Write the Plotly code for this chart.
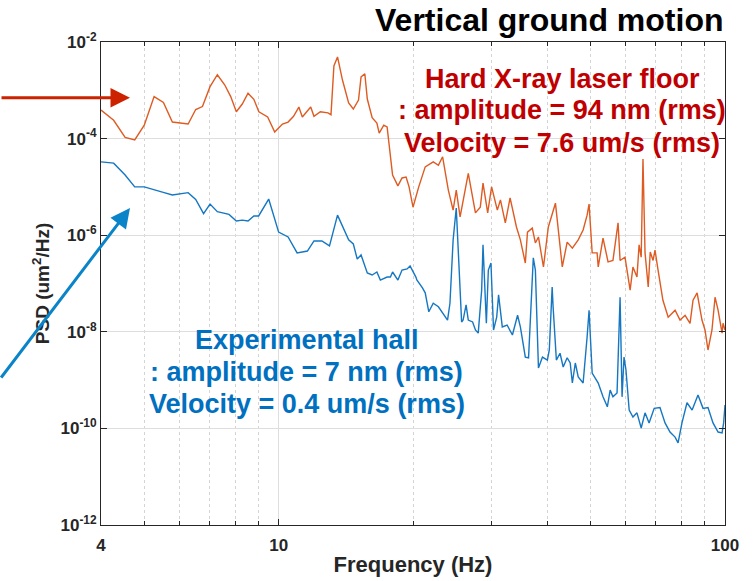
import plotly.graph_objects as go

# ---- data ----
freq_floor = [4.00, 4.27, 4.53, 4.76, 5.00, 5.26, 5.52, 5.78, 6.27, 6.52, 6.75, 7.02, 7.29, 7.57, 7.81,
              8.04, 8.29, 8.54, 8.80, 9.03, 9.45, 9.80, 10.2, 10.5, 10.8, 11.1, 11.3, 11.8, 12.0, 12.4,
              12.9, 13.1, 13.3, 13.55, 13.9, 14.35, 14.7, 15.1, 15.3, 15.6, 15.8, 16.2, 16.6, 16.8, 17.2,
              17.5, 18.0, 18.5, 18.9, 19.3, 19.6, 20.0, 20.6, 21.3, 22.2, 22.8, 23.3, 24.0, 24.6, 25.0,
              25.5, 26.6, 27.6, 28.3, 28.7, 29.4, 30.0, 30.9, 31.4, 32.2, 33.0, 34.1, 34.8, 35.7, 36.1,
              37.0, 37.6, 38.2, 39.2, 40.2, 41.7, 42.3, 43.2, 44.3, 45.5, 46.9, 48.1, 49.1, 49.6, 50.4,
              51.7, 52.0, 53.3, 54.7, 56.1, 57.6, 58.2, 59.7, 60.7, 61.3, 62.2, 63.5, 64.2, 64.9, 65.5,
              66.2, 67.3, 68.0, 69.0, 69.7, 70.8, 72.6, 74.6, 77.3, 79.3, 81.4, 83.5, 84.8, 86.6, 88.8,
              90.2, 91.6, 93.5, 95.0, 96.5, 98.5, 99.0, 100.0]
psd_floor = [3.9e-4, 2.4e-4, 1.06e-4, 9.4e-5, 1.9e-4, 7.4e-4, 5.6e-4, 2.2e-4, 2.0e-4, 4.0e-4, 4.6e-4, 1.19e-3,
             2.1e-3, 1.3e-3, 7.4e-4, 3.6e-4, 5.2e-4, 8.7e-4, 6.5e-4, 3.6e-4, 2.8e-4, 1.37e-4, 2.0e-4, 2.2e-4,
             2.9e-4, 4.5e-4, 2.8e-4, 4.5e-4, 2.9e-4, 3.6e-4, 3.4e-4, 3.1e-4, 3.2e-3, 4.9e-3, 1.63e-3, 5.5e-4,
             4.1e-4, 6.3e-4, 1.9e-3, 2.2e-3, 6.6e-4, 2.7e-4, 2.1e-4, 1.3e-4, 1.9e-4, 1.74e-4, 1.76e-5, 1.05e-5,
             1.53e-5, 1.6e-5, 1.0e-5, 3.8e-6, 1.0e-5, 2.6e-5, 3.3e-5, 2.8e-5, 4.2e-5, 8.6e-6, 3.3e-6, 8.6e-6,
             2.4e-6, 1.9e-5, 2.9e-6, 3.8e-6, 1.2e-5, 2.9e-6, 1.0e-5, 3.3e-6, 5.4e-6, 1.8e-6, 5.9e-6, 1.48e-6,
             8.0e-7, 2.65e-7, 1.16e-6, 1.4e-6, 6.9e-7, 9.2e-7, 2.2e-7, 1.48e-6, 4.6e-6, 1.48e-6, 2.2e-7, 7.2e-7,
             5.4e-7, 8.0e-7, 1.28e-6, 2.6e-6, 4.4e-6, 4.3e-7, 4.3e-7, 2.2e-7, 8.7e-7, 2.8e-7, 3.0e-7, 1.8e-6,
             3.0e-7, 3.5e-7, 1.36e-7, 7.3e-8, 2.2e-7, 1.36e-7, 6.3e-7, 3.5e-7, 3.8e-5, 4.3e-7, 8.5e-8, 4.5e-7,
             3.0e-7, 4.9e-7, 1.9e-7, 4.5e-8, 2.0e-8, 2.8e-8, 1.75e-8, 2.2e-8, 1.5e-8, 4.5e-8, 6.4e-8, 1.75e-8,
             1.09e-8, 4.2e-9, 1.09e-8, 5.2e-8, 2.8e-8, 9.4e-9, 1.5e-8, 1.09e-8]

freq_hall = [4.00, 4.27, 4.53, 4.76, 5.00, 5.26, 5.54, 5.78, 6.27, 6.52, 6.79, 7.02, 7.29, 7.74, 8.04,
             8.29, 8.54, 8.80, 9.02, 9.50, 10.0, 10.5, 11.0, 11.6, 12.0, 12.5, 13.0, 13.55, 14.35, 14.7,
             15.0, 15.3, 15.8, 16.2, 16.6, 16.9, 17.5, 17.8, 18.0, 18.5, 18.9, 19.4, 19.7, 20.3, 20.4,
             21.0, 21.3, 21.7, 22.2, 22.8, 23.3, 23.9, 24.2, 24.6, 25.0, 25.3, 25.7, 25.9, 26.3, 26.6,
             27.2, 27.6, 28.0, 28.5, 28.7, 29.2, 29.5, 29.9, 30.3, 30.8, 31.1, 31.7, 32.5, 33.4, 34.3,
             34.8, 35.7, 36.3, 37.2, 37.6, 37.9, 38.2, 39.0, 40.0, 40.4, 41.0, 41.2, 41.9, 42.7, 43.4,
             44.3, 45.0, 45.5, 46.2, 46.9, 48.1, 49.1, 49.6, 50.4, 52.0, 53.3, 54.5, 55.3, 56.1, 57.3,
             57.9, 58.2, 58.8, 59.4, 60.0, 61.0, 62.2, 63.5, 64.9, 66.2, 67.6, 69.4, 71.5, 73.4, 75.3,
             77.3, 78.5, 80.1, 82.2, 84.4, 87.0, 89.3, 91.6, 94.0, 96.5, 98.5, 99.3, 100.0]
psd_hall = [3.3e-5, 3.1e-5, 1.76e-5, 1.0e-5, 1.0e-5, 8.6e-6, 7.6e-6, 6.8e-6, 7.6e-6, 5.5e-6, 2.8e-6, 4.4e-6,
            3.07e-6, 2.7e-6, 1.97e-6, 2.05e-6, 1.97e-6, 2.5e-6, 2.5e-6, 5.6e-6, 1.16e-6, 9.2e-7, 4.3e-7, 4.7e-7,
            7.6e-7, 7.6e-7, 6.0e-7, 2.6e-6, 8.0e-7, 6.6e-7, 3.2e-7, 3.9e-7, 1.65e-7, 1.5e-7, 1.73e-7, 1.18e-7,
            1.36e-7, 1.36e-7, 1.73e-7, 1.18e-7, 1.9e-7, 2.0e-7, 2.3e-7, 1.36e-7, 1.18e-7, 8.1e-8, 6.4e-8, 2.6e-8,
            3.9e-8, 3.3e-8, 2.45e-8, 1.75e-8, 3.9e-8, 8.0e-7, 3.66e-6, 3.5e-7, 1.6e-8, 1.75e-8, 3.6e-8, 1.75e-8,
            1.6e-8, 1.09e-8, 9.4e-9, 7.3e-8, 6.3e-7, 1.5e-8, 1.9e-7, 2.65e-7, 1.09e-8, 2.0e-8, 5.8e-8, 1.26e-8,
            1.38e-8, 8.6e-9, 2.2e-8, 1.26e-8, 3.0e-9, 2.9e-9, 3.4e-7, 1.9e-7, 1.5e-8, 1.78e-9, 3.0e-9, 2.6e-9,
            4.2e-9, 8.5e-8, 3.3e-8, 2.6e-9, 3.6e-9, 1.87e-9, 2.9e-9, 2.26e-9, 8.7e-10, 2.26e-9, 1.16e-9, 8.7e-10,
            7.8e-9, 2.8e-8, 1.4e-9, 8.7e-10, 4.5e-10, 2.8e-10, 6.2e-10, 4.5e-10, 5.4e-10, 7.8e-9, 5.2e-8, 4.5e-10,
            3.0e-9, 1.62e-9, 2.4e-10, 1.72e-10, 2.1e-10, 1.02e-10, 2.1e-10, 1.3e-10, 2.6e-10, 2.7e-10, 1.3e-10,
            8.4e-11, 6.6e-11, 5.0e-11, 1.3e-10, 3.4e-10, 2.4e-10, 4.9e-10, 2.6e-10, 2.7e-10, 1.3e-10, 8.4e-11,
            8.1e-11, 1.3e-10, 3.05e-10]

x_tickvals = [4, 10, 100]
x_ticktext = ["4", "10", "100"]
x_minor = [5, 6, 7, 8, 9, 20, 30, 40, 50, 60, 70, 80, 90]
y_tickvals = [1e-12, 1e-10, 1e-8, 1e-6, 1e-4, 1e-2]
y_ticktext = ["10<sup>-12</sup>", "10<sup>-10</sup>", "10<sup>-8</sup>",
              "10<sup>-6</sup>", "10<sup>-4</sup>", "10<sup>-2</sup>"]

title_text = "Vertical ground motion"
floor_lines = ["Hard X-ray laser floor", ": amplitude = 94 nm (rms)", "Velocity = 7.6 um/s (rms)"]
hall_lines = ["Experimental hall", ": amplitude = 7 nm (rms)", "Velocity = 0.4 um/s (rms)"]

FONT = "Liberation Sans, Arial, sans-serif"
AX = "#262626"

fig = go.Figure()
fig.add_trace(go.Scatter(x=freq_floor, y=psd_floor, mode="lines",
                         line=dict(color="#DE5B22", width=1.4), showlegend=False))
fig.add_trace(go.Scatter(x=freq_hall, y=psd_hall, mode="lines",
                         line=dict(color="#1577C2", width=1.4), showlegend=False))

fig.update_layout(
    width=754, height=581,
    margin=dict(l=101, r=29, t=42, b=56),
    paper_bgcolor="white", plot_bgcolor="white",
    font=dict(family=FONT, color=AX),
)
fig.update_xaxes(
    type="log", range=[0.60206, 2.0], automargin=False,
    tickvals=x_tickvals, ticktext=x_ticktext,
    tickfont=dict(size=17, weight="bold", color=AX),
    ticks="inside", ticklen=6, tickcolor=AX, ticklabelstandoff=5,
    showline=True, linecolor=AX, linewidth=1, mirror="ticks",
    showgrid=True, gridcolor="#dedede", gridwidth=1,
    minor=dict(tickvals=x_minor, ticks="inside", ticklen=4, tickcolor=AX,
               showgrid=True, gridcolor="#d4d4d4", griddash="dot", gridwidth=1),
    zeroline=False,
    title=dict(text="Frequency (Hz)", font=dict(size=22, weight="bold", color=AX), standoff=2),
)
fig.update_yaxes(
    type="log", range=[-12, -2], automargin=False,
    tickvals=y_tickvals, ticktext=y_ticktext,
    tickfont=dict(size=17, weight="bold", color=AX),
    ticks="inside", ticklen=6, tickcolor=AX,
    showline=True, linecolor=AX, linewidth=1, mirror="ticks",
    showgrid=True, gridcolor="#dedede", gridwidth=1,
    zeroline=False,
    title=dict(text="PSD (um<sup>2</sup>/Hz)", font=dict(size=19, weight="bold", color=AX), standoff=5),
)

fig.add_annotation(text=title_text, xref="paper", yref="paper", x=1.0, y=1.046,
                   xanchor="right", yanchor="middle", showarrow=False,
                   font=dict(size=32, weight="bold", color="black", family=FONT))

floor_y = [0.9244, 0.8582, 0.7919]
for txt, yy in zip(floor_lines, floor_y):
    fig.add_annotation(text=txt, xref="paper", yref="paper", x=0.7388, y=yy,
                       xanchor="center", yanchor="middle", showarrow=False,
                       font=dict(size=27, weight="bold", color="#C00000", family=FONT))
hall_y = [0.3830, 0.3168, 0.2505]
for txt, yy in zip(hall_lines, hall_y):
    fig.add_annotation(text=txt, xref="paper", yref="paper", x=0.3301, y=yy,
                       xanchor="center", yanchor="middle", showarrow=False,
                       font=dict(size=27, weight="bold", color="#0070C0", family=FONT))

# arrows coming from outside the axes
fig.add_annotation(text="", xref="paper", yref="paper", x=0.0465, y=0.8847,
                   axref="pixel", ayref="pixel", ax=-130, ay=0,
                   showarrow=True, arrowhead=2, arrowsize=1.3, arrowwidth=3,
                   arrowcolor="#CC2200", standoff=0)
fig.add_annotation(text="", xref="paper", yref="paper", x=0.0465, y=0.6563,
                   axref="pixel", ayref="pixel", ax=-130, ay=171,
                   showarrow=True, arrowhead=2, arrowsize=1.3, arrowwidth=3,
                   arrowcolor="#0A84C8", standoff=0)

fig.write_html("out.html", config={"displayModeBar": False})
